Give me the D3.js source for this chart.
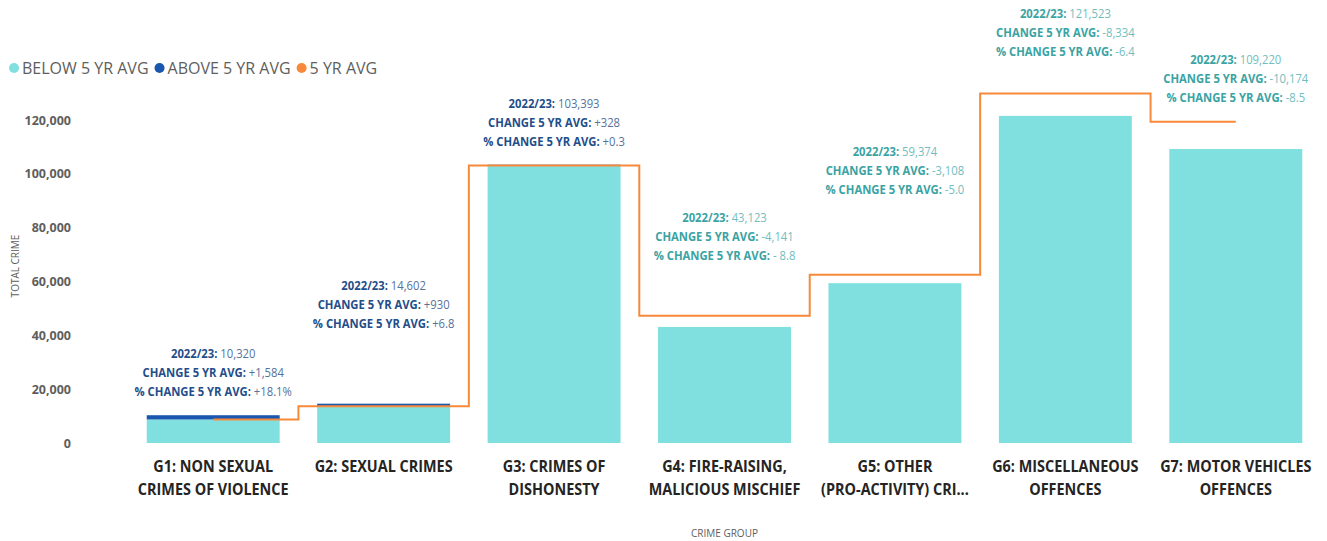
<!DOCTYPE html>
<html>
<head>
<meta charset="utf-8">
<script src="https://cdn.jsdelivr.net/npm/d3@7"></script>
<style>
  html, body { margin: 0; padding: 0; background: #fff; }
  svg { display: block; font-family: "Open Sans", "Noto Sans", sans-serif; }
</style>
</head>
<body>
<svg id="chart" width="1327" height="541"></svg>
<script>
// ---------------- DATA ----------------
const categories = ["G1", "G2", "G3", "G4", "G5", "G6", "G7"];
const categoryLabels = [
  ["G1: NON SEXUAL", "CRIMES OF VIOLENCE"],
  ["G2: SEXUAL CRIMES"],
  ["G3: CRIMES OF", "DISHONESTY"],
  ["G4: FIRE-RAISING,", "MALICIOUS MISCHIEF"],
  ["G5: OTHER", "(PRO-ACTIVITY) CRI..."],
  ["G6: MISCELLANEOUS", "OFFENCES"],
  ["G7: MOTOR VEHICLES", "OFFENCES"]
];
const total2223 = [10320, 14602, 103393, 43123, 59374, 121523, 109220];
const change5yr = [1584, 930, 328, -4141, -3108, -8334, -10174];
const pctChangeLabels = ["+18.1%", "+6.8", "+0.3", "- 8.8", "-5.0", "-6.4", "-8.5"];
const avg5yr = total2223.map((v, i) => v - change5yr[i]);
const yTicks = [0, 20000, 40000, 60000, 80000, 100000, 120000];
const legendItems = ["BELOW 5 YR AVG", "ABOVE 5 YR AVG", "5 YR AVG"];

// ---------------- LAYOUT ----------------
const labelTopY = [354, 286, 104, 218, 152, 14, 60]; // first label line centre (px)
const colors = {
  below: "#80E0E0",
  above: "#1A55AE",
  avg: "#F7893B",
  aboveLabel: "#1F4E8A",
  aboveValue: "#56719A",
  belowLabel: "#3AA3A3",
  belowValue: "#72BDBD",
  axis: "#605E5C",
  cat: "#252423"
};

const svg = d3.select("#chart");
const x = d3.scaleBand().domain(categories).range([128, 1321]).paddingInner(0.22).paddingOuter(0.11);
const y = d3.scaleLinear().domain([0, 120000]).range([443, 120]);

// y axis
const yAxis = d3.axisLeft(y).tickValues(yTicks).tickFormat(d3.format(",")).tickSize(0).tickPadding(0);
const yg = svg.append("g").attr("transform", "translate(71,0)").call(yAxis);
yg.select(".domain").remove();
yg.selectAll("text").attr("fill", colors.axis).attr("font-size", 12.5).attr("font-weight", 700)
  .attr("font-family", "'Open Sans', sans-serif");

svg.append("text").text("TOTAL CRIME")
  .attr("transform", "translate(19,266) rotate(-90)")
  .attr("text-anchor", "middle").attr("font-size", 10).attr("fill", colors.axis);

// x axis labels (slightly condensed bold)
const xg = svg.append("g");
categories.forEach((c, i) => {
  const cx = x(c) + x.bandwidth() / 2;
  const t = xg.append("text").attr("transform", `translate(${cx},0) scale(0.89,1)`)
    .attr("text-anchor", "middle")
    .attr("font-size", 16.2).attr("font-weight", 700).attr("fill", colors.cat);
  categoryLabels[i].forEach((line, j) => {
    t.append("tspan").attr("x", 0).attr("y", 472 + j * 23).text(line);
  });
});
svg.append("text").text("CRIME GROUP").attr("x", (x.range()[0] + x.range()[1]) / 2).attr("y", 537)
  .attr("text-anchor", "middle").attr("font-size", 10).attr("fill", colors.axis);

// bars
const bars = svg.append("g");
categories.forEach((c, i) => {
  const v = total2223[i], a = avg5yr[i];
  if (v > a) {
    bars.append("rect").attr("x", x(c)).attr("width", x.bandwidth())
      .attr("y", y(a)).attr("height", y(0) - y(a)).attr("fill", colors.below);
    bars.append("rect").attr("x", x(c)).attr("width", x.bandwidth())
      .attr("y", y(v)).attr("height", y(a) - y(v)).attr("fill", colors.above);
  } else {
    bars.append("rect").attr("x", x(c)).attr("width", x.bandwidth())
      .attr("y", y(v)).attr("height", y(0) - y(v)).attr("fill", colors.below);
  }
});

// 5 yr avg step line
const line = d3.line()
  .x((d, i) => x(categories[i]) + x.bandwidth() / 2)
  .y(d => y(d))
  .curve(d3.curveStep);
svg.append("path").datum(avg5yr).attr("d", line)
  .attr("fill", "none").attr("stroke", colors.avg).attr("stroke-width", 2);

// data labels
const fmt = d3.format(",");
const signed = v => (v >= 0 ? "+" : "-") + fmt(Math.abs(v));
const lg = svg.append("g");
categories.forEach((c, i) => {
  const above = change5yr[i] > 0;
  const lc = above ? colors.aboveLabel : colors.belowLabel;
  const vc = above ? colors.aboveValue : colors.belowValue;
  const cx = x(c) + x.bandwidth() / 2;
  const lines = [
    ["2022/23: ", fmt(total2223[i])],
    ["CHANGE 5 YR AVG: ", signed(change5yr[i])],
    ["% CHANGE 5 YR AVG: ", pctChangeLabels[i]]
  ];
  lines.forEach((ln, j) => {
    const t = lg.append("text").attr("transform", `translate(${cx},${labelTopY[i] + j * 18.8 + 4}) scale(0.94,1)`)
      .attr("text-anchor", "middle").attr("font-size", 12);
    t.append("tspan").attr("font-weight", 700).attr("fill", lc).text(ln[0]);
    t.append("tspan").attr("font-weight", 400).attr("fill", vc).text(ln[1]);
  });
});

// legend
const legColors = [colors.below, colors.above, colors.avg];
const leg = svg.append("g");
let lx = 14;
legendItems.forEach((name, i) => {
  leg.append("circle").attr("cx", lx).attr("cy", 68).attr("r", 5).attr("fill", legColors[i]);
  const t = leg.append("text").attr("x", lx + 8).attr("y", 74).attr("font-size", 16)
    .attr("fill", colors.axis).text(name);
  lx += 8 + t.node().getComputedTextLength() + 11;
});
</script>
</body>
</html>
